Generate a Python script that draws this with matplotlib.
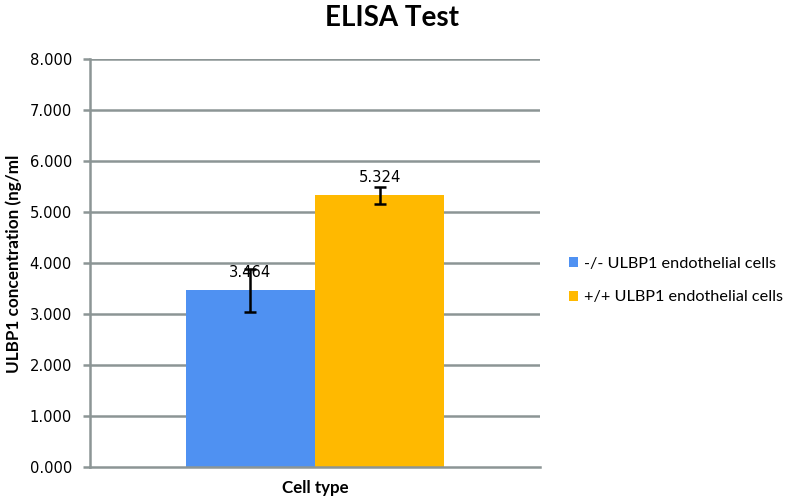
import matplotlib
matplotlib.use("Agg")
import matplotlib.pyplot as plt
import numpy as np

title = "ELISA Test"
series_labels = ["-/- ULBP1 endothelial cells", "+/+ ULBP1 endothelial cells"]
values = [3.464, 5.324]
errors = [0.42, 0.17]
value_labels = ["3.464", "5.324"]
colors = ["#4F91F2", "#FFB900"]
yticks = [0, 1, 2, 3, 4, 5, 6, 7, 8]
ytick_labels = ["0.000", "1.000", "2.000", "3.000", "4.000", "5.000", "6.000", "7.000", "8.000"]
xlabel = "Cell type"
ylabel = "ULBP1 concentration (ng/ml"

grid_col = "#8C9595"

fig = plt.figure(figsize=(7.86, 4.99), dpi=100)
ax = fig.add_axes([90/786, 1 - 467/499, 450/786, (467-59)/499])

xpos = [-0.5, 0.5]
for i in range(len(values)):
    ax.bar(xpos[i], values[i], width=1.0, color=colors[i], label=series_labels[i], zorder=2)
    ax.errorbar(xpos[i], values[i], yerr=errors[i], fmt="none", ecolor="black",
                elinewidth=1.8, capsize=4, capthick=1.8, zorder=4)
    ax.text(xpos[i], values[i] + 0.35, value_labels[i], ha="center", va="center",
            fontsize=10.6, family="DejaVu Sans", zorder=3)

ax.set_xlim(-1.744, 1.744)
ax.set_ylim(0, 8)
ax.set_yticks(yticks)
ax.set_yticklabels(ytick_labels, fontsize=10.6, family="DejaVu Sans")
ax.set_xticks([])
for y in yticks[1:]:
    ax.axhline(y, color=grid_col, lw=1.8, zorder=1)
for s in ["top", "right"]:
    ax.spines[s].set_visible(False)
ax.spines["left"].set_color(grid_col)
ax.spines["left"].set_linewidth(1.8)
ax.spines["bottom"].set_color(grid_col)
ax.spines["bottom"].set_linewidth(1.8)
ax.tick_params(axis="y", length=5, width=1.8, color=grid_col, pad=8)

fig.text(392/786, 1 - 18/499, title, ha="center", va="center", fontsize=20,
         fontweight="bold", family="Lato")
fig.text(315/786, 1 - 488/499, xlabel, ha="center", va="center", fontsize=12.2,
         fontweight="bold", family="Lato")
fig.text(14/786, 1 - 264/499, ylabel, ha="center", va="center", fontsize=12.3,
         fontweight="bold", family="Lato", rotation=90)

leg = fig.legend(loc="upper left", bbox_to_anchor=(569/786, 1 - 257/499), frameon=False,
                 prop={"family": "Lato", "size": 11.7}, handlelength=0.55, handleheight=0.55,
                 handletextpad=0.4, labelspacing=1.2, borderaxespad=0, borderpad=0)

fig.savefig("out.png", dpi=100)
